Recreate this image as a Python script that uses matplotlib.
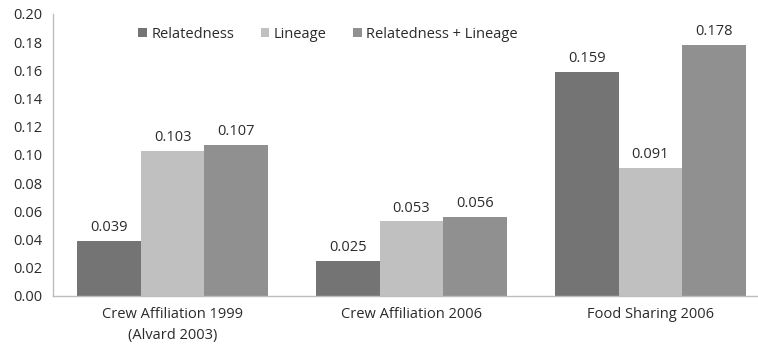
import matplotlib.pyplot as plt
import numpy as np

# ------------------ Datos ------------------
categorias = ["Crew Affiliation 1999\n(Alvard 2003)", "Crew Affiliation 2006", "Food Sharing 2006"]
series = ["Relatedness", "Lineage", "Relatedness + Lineage"]
relatedness = [0.039, 0.025, 0.159]
lineage = [0.103, 0.053, 0.091]
rel_lineage = [0.107, 0.056, 0.178]
colores = ["#747474", "#c0c0c0", "#909090"]

plt.rcParams['font.family'] = ['Open Sans', 'DejaVu Sans']

fig = plt.figure(figsize=(7.58, 3.47), dpi=100)
ax = fig.add_axes([0.070, 0.147, 0.930, 0.813])

x = np.arange(len(categorias))
ancho = 0.267
for i, (nombre, valores) in enumerate(zip(series, [relatedness, lineage, rel_lineage])):
    pos = x + (i - 1) * ancho
    barras = ax.bar(pos, valores, width=ancho, color=colores[i], label=nombre)
    for b, v in zip(barras, valores):
        ax.text(b.get_x() + b.get_width() / 2, v + 0.004, f"{v:.3f}",
                ha="center", va="bottom", fontsize=10.5, color="#2b2b2b")

ax.set_xlim(-0.5, 2.45)
ax.set_ylim(0, 0.20)
ax.set_yticks(np.arange(0, 0.201, 0.02))
ax.set_yticklabels([f"{v:.2f}" for v in np.arange(0, 0.201, 0.02)])
ax.set_xticks(x)
ax.set_xticklabels(categorias, linespacing=1.5)
ax.tick_params(axis="both", length=0, labelsize=10.5, colors="#2b2b2b")
ax.tick_params(axis="y", pad=8)
ax.tick_params(axis="x", pad=8)
for lado in ["top", "right"]:
    ax.spines[lado].set_visible(False)
for lado in ["left", "bottom"]:
    ax.spines[lado].set_color("#bdbdbd")
    ax.spines[lado].set_linewidth(1)

ax.legend(loc="upper center", bbox_to_anchor=(0.39, 1.0), ncol=3, frameon=False,
          fontsize=10.5, handlelength=0.6, handleheight=0.6, handletextpad=0.3,
          columnspacing=1.8, labelcolor="#2b2b2b")

plt.savefig("out.png", dpi=100)
